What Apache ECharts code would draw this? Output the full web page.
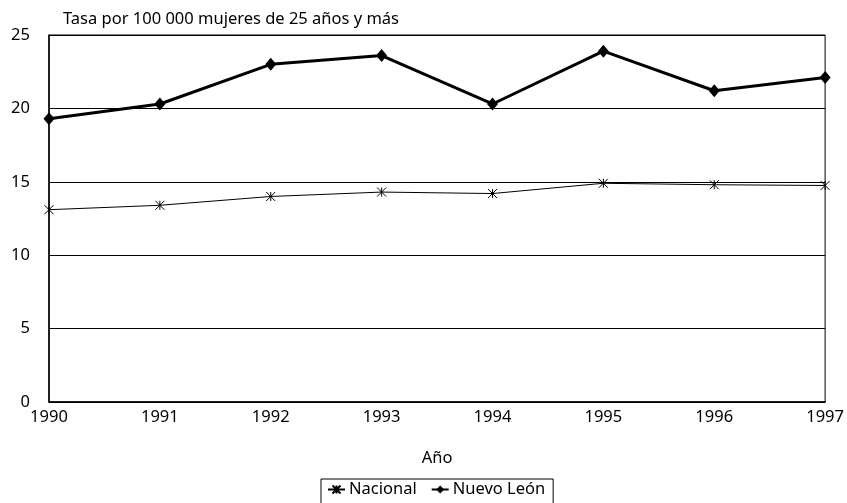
<!DOCTYPE html>
<html>
<head>
<meta charset="utf-8">
<script src="https://cdn.jsdelivr.net/npm/echarts@6/dist/echarts.min.js"></script>
<style>
  html, body { margin: 0; padding: 0; background: #fff; }
  #chart { width: 847px; height: 503px; }
</style>
</head>
<body>
<div id="chart"></div>
<script>
// Tasa por 100 000 mujeres de 25 años y más, 1990-1997
var years = ['1990', '1991', '1992', '1993', '1994', '1995', '1996', '1997'];
var nacional = [13.1, 13.4, 14.0, 14.3, 14.2, 14.9, 14.8, 14.75];
var nuevoLeon = [19.3, 20.3, 23.0, 23.6, 20.3, 23.9, 21.2, 22.1];
var yTicks = [0, 5, 10, 15, 20, 25];

var FONT = 'Noto Sans';
var FS = 16.5;
// asterisk-style marker: an X crossed by a vertical stroke
var starPath = 'path://M0,0L10,10M10,0L0,10M5,0L5,10';

var chart = echarts.init(document.getElementById('chart'), null, { renderer: 'canvas' });
chart.setOption({
  animation: false,
  backgroundColor: '#fff',
  textStyle: { fontFamily: FONT, color: '#000' },
  grid: {
    left: 49, right: 20, top: 35, bottom: 101,
    show: true, borderColor: '#000', borderWidth: 1
  },
  legend: {
    bottom: -3,
    left: 321,
    itemGap: 14,
    itemWidth: 17,
    itemHeight: 10,
    padding: [2, 8, 8, 6],
    borderColor: '#000',
    borderWidth: 1,
    textStyle: { fontFamily: FONT, fontSize: FS, color: '#000', padding: [0, 0, 0, -1] },
    data: ['Nacional', 'Nuevo León']
  },
  xAxis: {
    type: 'category',
    data: years,
    boundaryGap: false,
    name: 'Año',
    nameLocation: 'middle',
    nameGap: 48,
    nameTextStyle: { fontFamily: FONT, fontSize: FS, color: '#000' },
    axisLine: { lineStyle: { color: '#000', width: 1.5 } },
    axisTick: { show: false },
    axisLabel: { fontFamily: FONT, fontSize: FS, color: '#000', margin: 7 },
    splitLine: { show: false }
  },
  yAxis: {
    type: 'value',
    min: yTicks[0],
    max: yTicks[yTicks.length - 1],
    interval: 5,
    name: 'Tasa por 100 000 mujeres de 25 años y más',
    nameLocation: 'end',
    nameGap: 7,
    nameTextStyle: { fontFamily: FONT, fontSize: FS, color: '#000', align: 'left', padding: [0, 0, 0, 14] },
    axisLine: { show: true, lineStyle: { color: '#000', width: 1.5 } },
    axisTick: { show: false },
    axisLabel: { fontFamily: FONT, fontSize: FS, color: '#000', margin: 19 },
    splitLine: { show: true, lineStyle: { color: '#000', width: 1 } }
  },
  series: [
    {
      name: 'Nacional',
      type: 'line',
      data: nacional,
      symbol: starPath,
      symbolSize: 9,
      lineStyle: { color: '#000', width: 1 },
      itemStyle: { color: '#000', borderColor: '#000', borderWidth: 1 },
      z: 3
    },
    {
      name: 'Nuevo León',
      type: 'line',
      data: nuevoLeon,
      symbol: 'diamond',
      symbolSize: [11, 13],
      lineStyle: { color: '#000', width: 3 },
      itemStyle: { color: '#000', borderColor: '#000', borderWidth: 0 },
      z: 4
    }
  ]
});
</script>
</body>
</html>
